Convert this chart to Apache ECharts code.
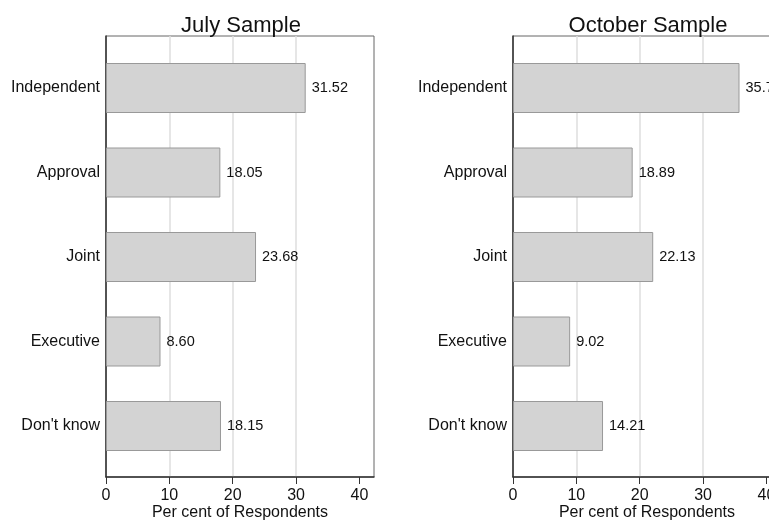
<!DOCTYPE html>
<html>
<head>
<meta charset="utf-8">
<script src="https://cdn.jsdelivr.net/npm/echarts@6/dist/echarts.min.js"></script>
<style>
html,body{margin:0;padding:0;background:#fff;}
#chart{width:769px;height:520px;}
</style>
</head>
<body>
<div id="chart"></div>
<script>
var categories = ['Independent', 'Approval', 'Joint', 'Executive', "Don't know"];
var julyValues = [31.52, 18.05, 23.68, 8.60, 18.15];
var octoberValues = [35.75, 18.89, 22.13, 9.02, 14.21];
var panelTitles = ['July Sample', 'October Sample'];
var xTickValues = [0, 10, 20, 30, 40];
var xAxisName = 'Per cent of Respondents';

var FONT = '"Liberation Sans", Arial, sans-serif';
var XMAX = 42.3;
var panels = [
  {left: 106, values: julyValues, title: panelTitles[0], cx: 236},
  {left: 513, values: octoberValues, title: panelTitles[1], cx: 643}
];

var grids = [], xAxes = [], yAxes = [], series = [], titles = [];
panels.forEach(function (p, i) {
  var fi = i * 2, bi = i * 2 + 1;
  grids.push({left: p.left, width: 268, top: 36, height: 441, show: true,
    borderColor: '#666', borderWidth: 1, backgroundColor: '#fff',
    containLabel: false, outerBoundsMode: 'none'});
  grids.push({left: p.left, width: 268, top: 45.75, height: 422.5,
    containLabel: false, outerBoundsMode: 'none'});
  xAxes.push({type: 'value', gridIndex: fi, min: 0, max: XMAX, interval: 10,
    name: xAxisName, nameLocation: 'middle', nameGap: 28, nameMoveOverlap: false,
    nameTextStyle: {fontFamily: FONT, fontSize: 16, color: '#111'},
    axisLine: {show: true, lineStyle: {color: '#333', width: 1.5}},
    axisTick: {show: true, length: 7, lineStyle: {color: '#333'}, customValues: xTickValues},
    axisLabel: {fontFamily: FONT, fontSize: 16, color: '#111', margin: 11, customValues: xTickValues},
    splitLine: {show: true, showMinLine: false, showMaxLine: false, lineStyle: {color: '#dedede', width: 1.5}}
  });
  xAxes.push({type: 'value', gridIndex: bi, min: 0, max: XMAX, show: false});
  yAxes.push({type: 'value', gridIndex: fi, min: 0, max: 1,
    axisLine: {show: true, lineStyle: {color: '#333', width: 1.5}},
    axisTick: {show: false}, axisLabel: {show: false}, splitLine: {show: false}});
  yAxes.push({type: 'category', gridIndex: bi, data: categories, inverse: true,
    axisLine: {show: false}, axisTick: {show: false},
    axisLabel: {fontFamily: FONT, fontSize: 16, color: '#111', margin: 6}});
  series.push({type: 'bar', xAxisIndex: bi, yAxisIndex: bi, data: p.values, barWidth: 50,
    itemStyle: {color: '#d3d3d3', borderColor: '#999', borderWidth: 1},
    label: {show: true, position: 'right', distance: 6, fontFamily: FONT, fontSize: 14.5, color: '#111',
      formatter: function (d) { return d.value.toFixed(2); }},
    silent: true, animation: false});
  titles.push({text: p.title, left: p.cx, top: 10, textAlign: 'center',
    textStyle: {fontFamily: FONT, fontSize: 22, fontWeight: 'normal', color: '#111'}});
});

var chart = echarts.init(document.getElementById('chart'), null, {renderer: 'canvas'});
chart.setOption({
  animation: false,
  backgroundColor: '#fff',
  title: titles,
  grid: grids,
  xAxis: xAxes,
  yAxis: yAxes,
  series: series
});
</script>
</body>
</html>
